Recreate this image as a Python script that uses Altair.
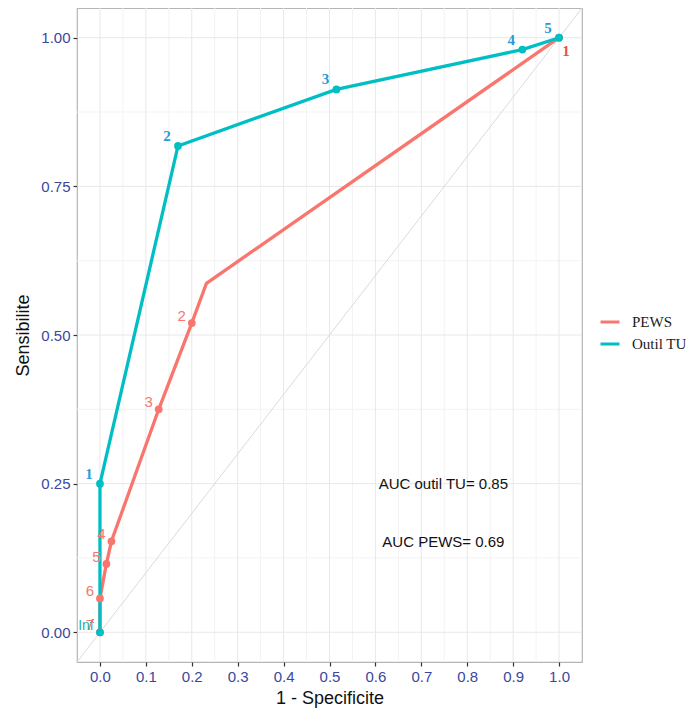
import altair as alt
import pandas as pd

# ---- data ----
tu_x = [0.0, 0.0, 0.17, 0.515, 0.92, 1.0]
tu_y = [0.0, 0.25, 0.818, 0.913, 0.98, 1.0]
tu_lab = ["Inf", "1", "2", "3", "4", "5"]

pews_x = [0.0, 0.0, 0.014, 0.025, 0.128, 0.2, 0.232, 1.0]
pews_y = [0.0, 0.057, 0.115, 0.153, 0.375, 0.52, 0.587, 1.0]
pews_lab = ["7", "6", "5", "4", "3", "2", "", "1"]

series_names = ["PEWS", "Outil TU"]
series_colors = ["#F8766D", "#00BFC4"]

x_major = [0.0, 0.1, 0.2, 0.3, 0.4, 0.5, 0.6, 0.7, 0.8, 0.9, 1.0]
x_minor = [0.05, 0.15, 0.25, 0.35, 0.45, 0.55, 0.65, 0.75, 0.85, 0.95]
y_major = [0.0, 0.25, 0.5, 0.75, 1.0]
y_minor = [0.125, 0.375, 0.625, 0.875]

diag = [-0.05, 1.05]

auc_text = ["AUC outil TU= 0.85", "AUC PEWS= 0.69"]
auc_x = [0.748, 0.748]
auc_y = [0.249, 0.152]

# ---- frames ----
tu = pd.DataFrame({"x": tu_x, "y": tu_y, "lab": tu_lab, "series": "Outil TU",
                   "i": range(len(tu_x))})
pews = pd.DataFrame({"x": pews_x, "y": pews_y, "lab": pews_lab, "series": "PEWS",
                     "i": range(len(pews_x))})
roc = pd.concat([pews, tu], ignore_index=True)
pts = roc[roc["lab"] != ""]

dom = [-0.05, 1.05]
xs = alt.Scale(domain=dom, nice=False, zero=False)
ys = alt.Scale(domain=dom, nice=False, zero=False)
xaxis = alt.Axis(values=x_major, format=".1f", title="1 - Specificite", grid=False)
yaxis = alt.Axis(values=y_major, format=".2f", title="Sensibilite", grid=False)

def X(f="x"):
    return alt.X(f"{f}:Q", scale=xs, axis=xaxis)

def Y(f="y"):
    return alt.Y(f"{f}:Q", scale=ys, axis=yaxis)

cscale = alt.Scale(domain=series_names, range=series_colors)

gx_minor = alt.Chart(pd.DataFrame({"x": x_minor})).mark_rule(
    color="#F3F3F3", strokeWidth=1).encode(x=X())
gy_minor = alt.Chart(pd.DataFrame({"y": y_minor})).mark_rule(
    color="#F3F3F3", strokeWidth=1).encode(y=Y())
gx_major = alt.Chart(pd.DataFrame({"x": x_major})).mark_rule(
    color="#E8E8E8", strokeWidth=1).encode(x=X())
gy_major = alt.Chart(pd.DataFrame({"y": y_major})).mark_rule(
    color="#E8E8E8", strokeWidth=1).encode(y=Y())

diag_df = pd.DataFrame({"x": [diag[0]], "y": [diag[0]], "x2": [diag[1]], "y2": [diag[1]]})
diag_line = alt.Chart(diag_df).mark_rule(color="#DADADA", strokeWidth=1).encode(
    x=X(), y=Y(), x2="x2:Q", y2="y2:Q")

lines = alt.Chart(roc).mark_line(strokeWidth=3.3).encode(
    x=X(), y=Y(), order="i:Q",
    color=alt.Color("series:N", scale=cscale, sort=series_names,
                    legend=alt.Legend(title=None, orient="none", legendX=522, legendY=303,
                                      symbolType="stroke", symbolSize=360,
                                      symbolStrokeWidth=3, labelFont="Liberation Serif",
                                      labelFontSize=15, labelColor="#222222",
                                      rowPadding=3, labelOffset=11)))

points = alt.Chart(pts).mark_point(filled=True, size=60, opacity=1).encode(
    x=X(), y=Y(),
    fill=alt.Fill("series:N", scale=cscale, legend=None))

tu_labels = alt.Chart(tu[tu["lab"] != "Inf"]).mark_text(
    font="Liberation Serif", fontWeight="bold", fontSize=15, color="#2A9AD6",
    dx=-11, dy=-10).encode(x=X(), y=Y(), text="lab:N")
tu_inf = alt.Chart(tu[tu["lab"] == "Inf"]).mark_text(
    font="Liberation Sans", fontSize=14, color="#1DB0B4", dx=-14, dy=-6).encode(
    x=X(), y=Y(), text="lab:N")
pews_labels = alt.Chart(pews[(pews["lab"] != "") & (pews["lab"] != "1")]).mark_text(
    font="Liberation Sans", fontSize=15, color="#F8766D", dx=-10, dy=-7).encode(
    x=X(), y=Y(), text="lab:N")
pews_one = alt.Chart(pews[pews["lab"] == "1"]).mark_text(
    font="Liberation Serif", fontWeight="bold", fontSize=15, color="#E8513E",
    dx=7, dy=13).encode(x=X(), y=Y(), text="lab:N")

auc = alt.Chart(pd.DataFrame({"x": auc_x, "y": auc_y, "t": auc_text})).mark_text(
    font="Liberation Sans", fontSize=15, color="#111111").encode(
    x=X(), y=Y(), text="t:N")

chart = alt.layer(
    gx_minor, gy_minor, gx_major, gy_major, diag_line, lines, points,
    tu_labels, tu_inf, pews_labels, pews_one, auc
).properties(
    width=505, height=654,
    autosize=alt.AutoSizeParams(type="none"),
    padding={"left": 69, "top": 0, "right": 104, "bottom": 48},
).configure_view(
    stroke="#B5B5B5", strokeWidth=1.2
).configure_axis(
    domain=False, tickColor="#333333", tickSize=4, tickWidth=1.2,
    labelColor="#3C46A0", labelFontSize=15, labelFont="Liberation Sans",
    titleFont="Liberation Sans", titleFontSize=18, titleFontWeight="normal",
    titleColor="#111111", labelPadding=3
).configure_axisY(
    titlePadding=8
).configure_axisX(
    titlePadding=5
)

chart.save("out.html", embed_options={"renderer": "svg", "actions": False})
